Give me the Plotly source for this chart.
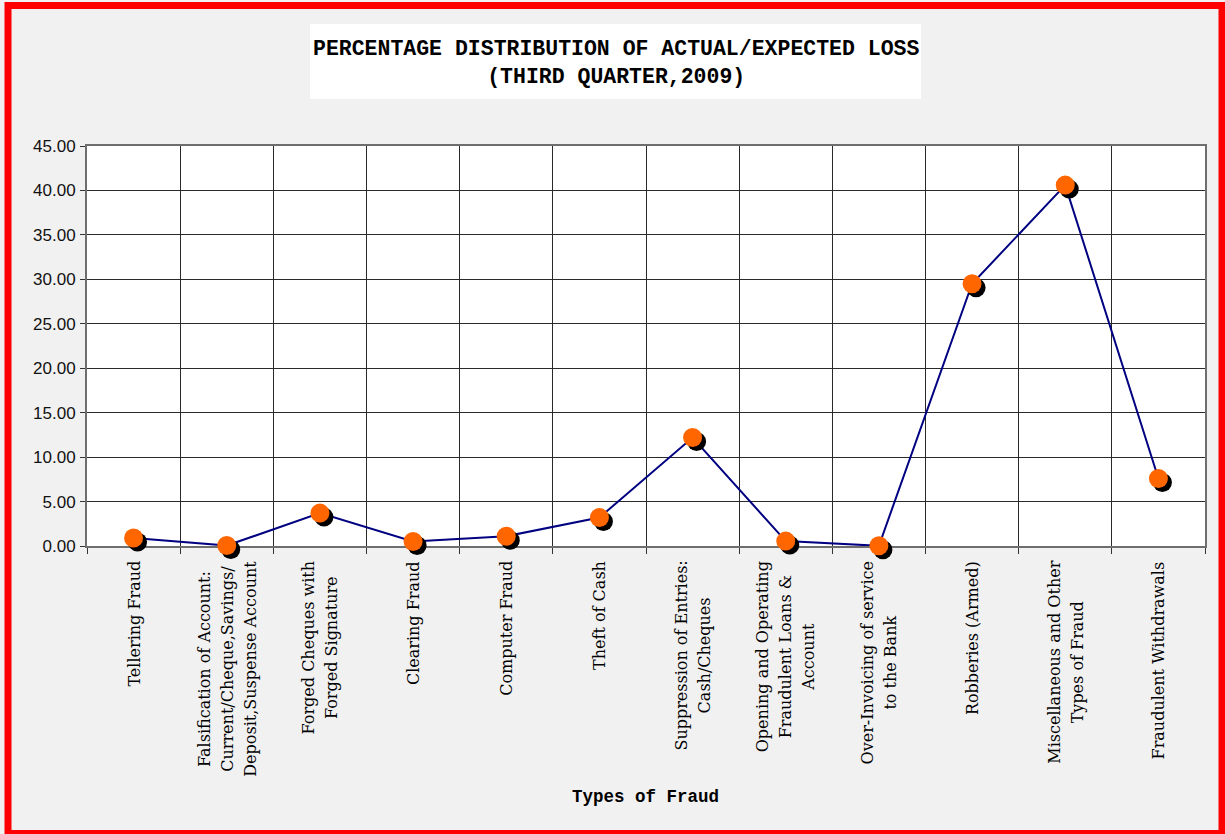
import plotly.graph_objects as go

# Fraud categories (line breaks as printed under the axis)
categories = [
    "Tellering Fraud",
    "Falsification of Account:<br>Current/Cheque,Savings/<br>Deposit,Suspense Account",
    "Forged Cheques with<br>Forged Signature",
    "Clearing Fraud",
    "Computer Fraud",
    "Theft of Cash",
    "Suppression of Entries:<br>Cash/Cheques",
    "Opening and Operating<br>Fraudulent Loans &<br>Account",
    "Over-Invoicing of service<br>to the Bank",
    "Robberies (Armed)",
    "Miscellaneous and Other<br>Types of Fraud",
    "Fraudulent Withdrawals",
]

# Percentage of actual/expected loss per fraud type
loss_pct = [0.90, 0.05, 3.70, 0.50, 1.10, 3.20, 12.20, 0.55, 0.02, 29.50, 40.60, 7.60]

y_ticks = [0, 5, 10, 15, 20, 25, 30, 35, 40, 45]

# Page geometry (pixels)
W, H = 1225, 834
left, right_edge, top, bottom_edge = 87, 1205, 146, 546
shadow = 4  # drop-shadow offset of the markers

area_w = (right_edge + shadow) - left
area_h = (bottom_edge + shadow) - top
mx = shadow / area_w
my = shadow / area_h


def px(xp):
    return (xp - left) / area_w


def py(yp):
    return ((bottom_edge + shadow) - yp) / area_h


keys = list(range(len(categories)))
y_range = [0, 45]
x_range = [-0.5, len(categories) - 0.5]

fig = go.Figure()

# connecting line on the main (gridded) subplot
fig.add_trace(go.Scatter(
    x=keys, y=loss_pct, mode="lines",
    line=dict(color="#000080", width=2),
    xaxis="x", yaxis="y", cliponaxis=False, hoverinfo="skip",
))

# black drop shadow, on a subplot offset a few pixels right and down
fig.add_trace(go.Scatter(
    x=keys, y=loss_pct, mode="markers",
    marker=dict(size=19, color="#000000", line=dict(width=0)),
    xaxis="x2", yaxis="y2", cliponaxis=False, hoverinfo="skip",
))

# orange markers
fig.add_trace(go.Scatter(
    x=keys, y=loss_pct, mode="markers",
    marker=dict(size=19, color="#ff6600", line=dict(width=0)),
    xaxis="x3", yaxis="y3", cliponaxis=False,
))

hidden_x = dict(range=x_range, visible=False, fixedrange=True)
hidden_y = dict(range=y_range, visible=False, fixedrange=True)

fig.update_layout(
    width=W, height=H,
    margin=dict(l=left, r=W - (right_edge + shadow), t=top, b=H - (bottom_edge + shadow), pad=0),
    paper_bgcolor="#f1f1f1",
    plot_bgcolor="rgba(0,0,0,0)",
    showlegend=False,
    xaxis=dict(
        domain=[0, 1 - mx], range=x_range,
        tickmode="array", tickvals=[k - 0.5 for k in keys] + [len(keys) - 0.5],
        showticklabels=False,
        showgrid=True, gridcolor="#2a2a2a", gridwidth=1,
        ticks="outside", ticklen=6, tickcolor="#333333", tickwidth=1,
        showline=True, linecolor="#6e6e6e", linewidth=2, mirror=True,
        zeroline=False, fixedrange=True,
    ),
    yaxis=dict(
        domain=[my, 1], range=y_range,
        tickmode="array", tickvals=y_ticks, tickformat=".2f",
        tickfont=dict(family="Liberation Sans, Arial", size=17, color="#111111"),
        ticklabelstandoff=1,
        showgrid=True, gridcolor="#2a2a2a", gridwidth=1,
        ticks="outside", ticklen=5, tickcolor="#333333",
        showline=True, linecolor="#6e6e6e", linewidth=2, mirror=True,
        zeroline=False, fixedrange=True,
    ),
    xaxis2=dict(domain=[mx, 1], anchor="y2", **hidden_x),
    yaxis2=dict(domain=[0, 1 - my], anchor="x2", **hidden_y),
    xaxis3=dict(domain=[0, 1 - mx], anchor="y3", **hidden_x),
    yaxis3=dict(domain=[my, 1], anchor="x3", **hidden_y),
)

shapes = [
    # white plot area
    dict(type="rect", xref="paper", yref="paper", x0=0, x1=1 - mx, y0=my, y1=1,
         fillcolor="#ffffff", line=dict(width=0), layer="below"),
    # white title box
    dict(type="rect", xref="paper", yref="paper", x0=px(310), x1=px(921), y0=py(99), y1=py(24),
         fillcolor="#ffffff", line=dict(width=0), layer="below"),
    # red page frame
    dict(type="rect", xref="paper", yref="paper", x0=px(8), x1=px(1222), y0=py(833.5), y1=py(5.5),
         fillcolor="rgba(0,0,0,0)", line=dict(color="#ff0000", width=7), layer="above"),
]
fig.update_layout(shapes=shapes)

annotations = [
    dict(text="PERCENTAGE DISTRIBUTION OF ACTUAL/EXPECTED LOSS<br>(THIRD QUARTER,2009)",
         xref="paper", yref="paper", x=px(615.5), y=py(63), xanchor="center", yanchor="middle",
         showarrow=False, align="center",
         font=dict(family="Liberation Mono, Courier New", size=21.5, color="#000000", weight="bold")),
    dict(text="Types of Fraud",
         xref="paper", yref="paper", x=px(645), y=py(797), xanchor="center", yanchor="middle",
         showarrow=False,
         font=dict(family="Liberation Mono, Courier New", size=17.5, color="#000000", weight="bold")),
]

# rotated category labels, lines centred on each other and hung below the axis
for k, label in zip(keys, categories):
    lines = label.split("<br>")
    text = "<br>".join('<span style="font-size:16px">%s</span>' % ln for ln in lines)
    annotations.append(dict(
        text=text, xref="x", yref="paper", x=k, y=my,
        xanchor="center", yanchor="top", yshift=-13,
        textangle=-90, align="center", showarrow=False,
        font=dict(family="DejaVu Serif", size=17.7, color="#000000"),
    ))

fig.update_layout(annotations=annotations)

fig.write_html("out.html")
